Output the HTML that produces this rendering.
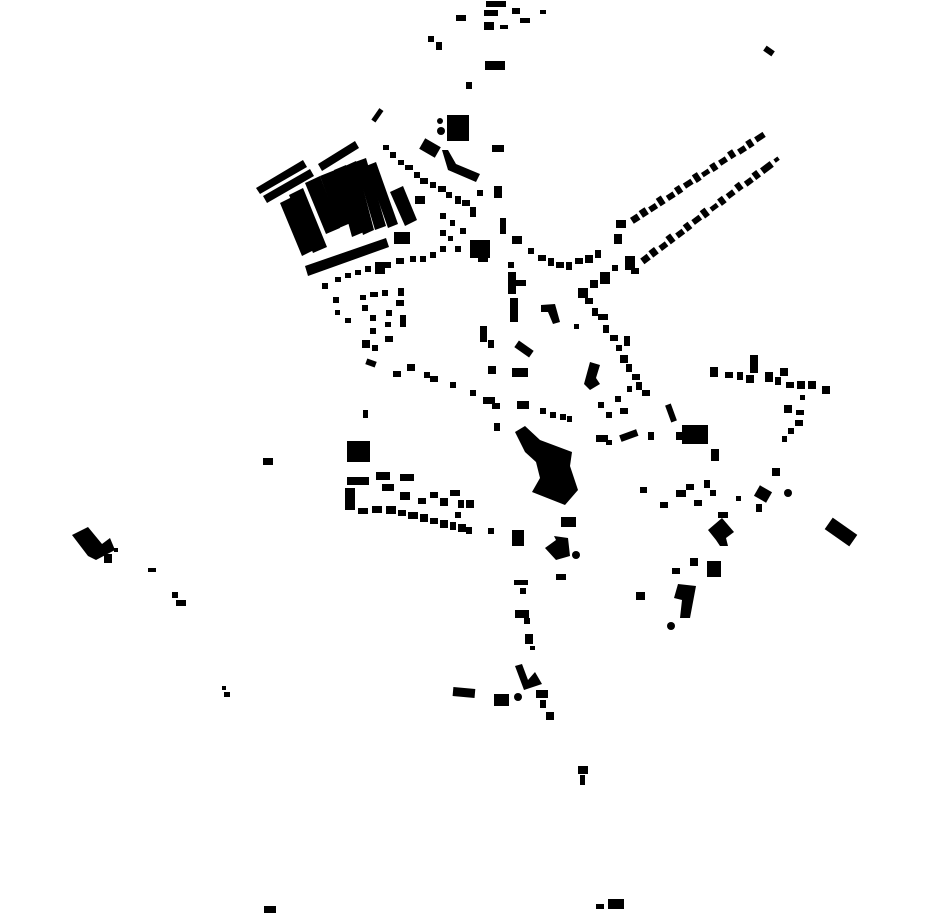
<!DOCTYPE html>
<html><head><meta charset="utf-8"><style>
html,body{margin:0;padding:0;background:#fff;}
svg{display:block;}
</style></head><body>
<svg width="930" height="924" viewBox="0 0 930 924" xmlns="http://www.w3.org/2000/svg" fill="#000">
<polygon points="256,188 303,160 307,167 260,194"/>
<polygon points="263,196 310,169 314,176 267,203"/>
<polygon points="318,164 355,141 359,148 322,171"/>
<polygon points="280,203 292,197 314,250 302,256"/>
<polygon points="289,195 303,188 327,247 313,253"/>
<polygon points="305,183 320,176 340,228 326,234"/>
<polygon points="320,176 335,170 353,222 339,228"/>
<polygon points="334,170 346,165 364,232 352,237"/>
<polygon points="345,166 356,161 374,230 363,235"/>
<polygon points="355,162 366,158 386,226 375,230"/>
<polygon points="366,166 376,162 398,224 388,228"/>
<polygon points="390,192 403,186 417,220 405,226"/>
<polygon points="305,266 386,238 389,247 308,276"/>
<rect x="394" y="232" width="16" height="12"/>
<rect x="375" y="262" width="10" height="12"/>
<rect x="486" y="1" width="20" height="6"/><rect x="484" y="10" width="14" height="6"/><rect x="484" y="22" width="10" height="8"/><rect x="512" y="8" width="8" height="6"/><rect x="520" y="18" width="10" height="5"/><rect x="540" y="10" width="6" height="4"/><rect x="456" y="15" width="10" height="6"/><rect x="500" y="25" width="8" height="4"/>
<rect x="428" y="36" width="6" height="6"/><rect x="436" y="42" width="6" height="8"/>
<rect x="485" y="61" width="20" height="9"/><rect x="466" y="82" width="6" height="7"/>
<rect x="764" y="48" width="10" height="6" transform="rotate(35 769 51)"/>
<rect x="447" y="115" width="22" height="26"/><circle cx="440" cy="121" r="3"/><circle cx="441" cy="131" r="4"/>
<rect x="421" y="142" width="18" height="12" transform="rotate(30 430 148)"/>
<polygon points="442,150 448,150 456,164 480,174 476,182 448,170"/>
<rect x="492" y="145" width="12" height="7"/><rect x="494" y="186" width="8" height="12"/>
<rect x="375" y="108" width="5" height="14" transform="rotate(35 377 115)"/>
<g>
<rect x="383" y="145" width="6" height="5"/><rect x="390" y="152" width="6" height="6"/><rect x="398" y="160" width="6" height="5"/><rect x="405" y="165" width="8" height="5"/><rect x="414" y="172" width="6" height="6"/><rect x="420" y="178" width="8" height="6"/><rect x="430" y="182" width="6" height="6"/><rect x="438" y="186" width="8" height="6"/><rect x="446" y="192" width="6" height="6"/><rect x="455" y="196" width="6" height="8"/><rect x="462" y="200" width="8" height="6"/><rect x="470" y="207" width="6" height="10"/><rect x="477" y="190" width="6" height="6"/>
<rect x="415" y="196" width="10" height="8"/><rect x="440" y="213" width="6" height="6"/><rect x="450" y="220" width="5" height="6"/><rect x="460" y="228" width="6" height="6"/><rect x="440" y="230" width="6" height="6"/><rect x="448" y="236" width="5" height="5"/><rect x="470" y="240" width="20" height="18"/><rect x="478" y="256" width="10" height="6"/><rect x="455" y="246" width="6" height="6"/><rect x="440" y="246" width="6" height="6"/><rect x="430" y="252" width="6" height="6"/><rect x="420" y="256" width="6" height="6"/><rect x="410" y="256" width="6" height="6"/><rect x="396" y="258" width="8" height="6"/><rect x="385" y="262" width="6" height="6"/>
<rect x="365" y="266" width="6" height="6"/><rect x="355" y="270" width="6" height="5"/><rect x="345" y="273" width="6" height="5"/><rect x="335" y="277" width="6" height="5"/><rect x="322" y="283" width="6" height="6"/><rect x="333" y="297" width="6" height="6"/><rect x="335" y="310" width="5" height="5"/><rect x="345" y="318" width="6" height="5"/>
<rect x="360" y="295" width="6" height="5"/><rect x="370" y="292" width="8" height="5"/><rect x="382" y="290" width="6" height="6"/><rect x="398" y="288" width="6" height="8"/><rect x="396" y="300" width="8" height="6"/><rect x="400" y="315" width="6" height="12"/><rect x="386" y="310" width="6" height="6"/><rect x="385" y="322" width="6" height="5"/><rect x="385" y="336" width="8" height="6"/><rect x="370" y="315" width="6" height="6"/><rect x="370" y="328" width="6" height="6"/><rect x="362" y="340" width="8" height="8"/><rect x="372" y="345" width="6" height="6"/><rect x="362" y="305" width="6" height="6"/>
<rect x="366" y="360" width="10" height="6" transform="rotate(20 371 363)"/><rect x="393" y="371" width="8" height="6"/><rect x="407" y="364" width="8" height="7"/><rect x="424" y="372" width="6" height="6"/><rect x="430" y="376" width="8" height="6"/><rect x="450" y="382" width="6" height="6"/><rect x="470" y="390" width="6" height="6"/><rect x="483" y="397" width="12" height="7"/><rect x="492" y="403" width="8" height="6"/><rect x="494" y="423" width="6" height="8"/><rect x="363" y="410" width="5" height="8"/>
</g>
<rect x="500" y="218" width="6" height="16"/><rect x="512" y="236" width="10" height="8"/><rect x="508" y="262" width="6" height="6"/><rect x="508" y="272" width="8" height="22"/><rect x="512" y="280" width="14" height="6"/><rect x="510" y="298" width="8" height="24"/><rect x="480" y="326" width="7" height="16"/><rect x="488" y="340" width="6" height="8"/><rect x="515" y="345" width="18" height="8" transform="rotate(35 524 349)"/><rect x="488" y="366" width="8" height="8"/><rect x="512" y="368" width="16" height="9"/><rect x="517" y="401" width="12" height="8"/>
<polygon points="541,305 555,304 560,322 553,324 548,312 541,312"/><rect x="574" y="324" width="5" height="5"/>
<rect x="540" y="408" width="6" height="6"/><rect x="550" y="412" width="6" height="6"/><rect x="560" y="414" width="6" height="6"/><rect x="567" y="416" width="5" height="6"/>
<rect x="528" y="248" width="6" height="6"/><rect x="538" y="255" width="8" height="6"/><rect x="548" y="258" width="6" height="8"/><rect x="556" y="262" width="8" height="6"/><rect x="566" y="262" width="6" height="8"/><rect x="575" y="258" width="8" height="6"/><rect x="585" y="255" width="8" height="8"/><rect x="595" y="250" width="6" height="8"/><rect x="578" y="288" width="10" height="10"/><rect x="590" y="280" width="8" height="8"/><rect x="600" y="272" width="10" height="12"/><rect x="612" y="265" width="6" height="6"/><rect x="625" y="256" width="10" height="14"/><rect x="631" y="268" width="8" height="6"/>
<!-- NE upper row -->
<g transform="rotate(-33 640 215)">
<rect x="630" y="212" width="8" height="7"/><rect x="641" y="211" width="7" height="8"/><rect x="651" y="213" width="8" height="6"/><rect x="662" y="210" width="6" height="9"/><rect x="672" y="213" width="8" height="6"/><rect x="683" y="211" width="6" height="8"/><rect x="693" y="212" width="9" height="6"/><rect x="705" y="210" width="6" height="9"/><rect x="714" y="213" width="8" height="5"/><rect x="725" y="211" width="6" height="8"/><rect x="735" y="212" width="8" height="6"/><rect x="747" y="210" width="6" height="8"/><rect x="757" y="213" width="8" height="6"/><rect x="768" y="211" width="6" height="8"/><rect x="778" y="212" width="10" height="6"/>
</g>
<!-- NE lower row -->
<g transform="rotate(-37 650 255)">
<rect x="640" y="252" width="8" height="7"/><rect x="651" y="251" width="7" height="8"/><rect x="662" y="253" width="8" height="6"/><rect x="673" y="250" width="6" height="9"/><rect x="683" y="253" width="8" height="6"/><rect x="694" y="251" width="6" height="8"/><rect x="704" y="252" width="9" height="6"/><rect x="716" y="250" width="6" height="9"/><rect x="726" y="253" width="8" height="5"/><rect x="737" y="251" width="6" height="8"/><rect x="747" y="252" width="8" height="6"/><rect x="759" y="250" width="6" height="8"/><rect x="769" y="253" width="8" height="6"/><rect x="780" y="251" width="6" height="8"/><rect x="790" y="252" width="12" height="7"/><rect x="806" y="253" width="5" height="4"/>
</g>
<rect x="616" y="220" width="10" height="8"/><rect x="614" y="234" width="8" height="10"/>
<rect x="585" y="298" width="8" height="6"/><rect x="592" y="308" width="6" height="8"/><rect x="598" y="314" width="10" height="6"/><rect x="603" y="325" width="6" height="8"/><rect x="610" y="335" width="8" height="6"/><rect x="616" y="345" width="6" height="6"/><rect x="624" y="336" width="6" height="10"/><rect x="620" y="355" width="8" height="8"/><rect x="626" y="364" width="6" height="8"/><rect x="632" y="374" width="8" height="6"/><rect x="636" y="382" width="6" height="8"/><rect x="642" y="390" width="8" height="6"/>
<polygon points="590,362 600,365 596,378 600,384 590,390 584,384"/>
<rect x="598" y="402" width="6" height="6"/><rect x="606" y="412" width="6" height="6"/><rect x="615" y="396" width="6" height="6"/><rect x="620" y="408" width="8" height="6"/><rect x="627" y="386" width="5" height="6"/><rect x="596" y="435" width="12" height="7"/><rect x="620" y="432" width="18" height="7" transform="rotate(-20 629 436)"/><rect x="606" y="440" width="6" height="5"/><rect x="648" y="432" width="6" height="8"/>
<rect x="668" y="404" width="6" height="18" transform="rotate(-20 671 413)"/><rect x="682" y="425" width="26" height="19"/><rect x="676" y="432" width="8" height="8"/><rect x="711" y="449" width="8" height="12"/>
<rect x="710" y="367" width="8" height="10"/><rect x="725" y="372" width="8" height="6"/><rect x="737" y="372" width="6" height="8"/><rect x="746" y="375" width="8" height="8"/><rect x="750" y="355" width="8" height="18"/><rect x="765" y="372" width="8" height="10"/><rect x="775" y="377" width="6" height="8"/><rect x="780" y="368" width="8" height="8"/><rect x="786" y="382" width="8" height="6"/><rect x="797" y="381" width="8" height="8"/><rect x="808" y="381" width="8" height="8"/><rect x="822" y="386" width="8" height="8"/><rect x="800" y="395" width="5" height="5"/><rect x="784" y="405" width="8" height="8"/><rect x="796" y="410" width="8" height="5"/><rect x="795" y="420" width="8" height="6"/><rect x="788" y="428" width="6" height="6"/><rect x="782" y="436" width="5" height="6"/>
<rect x="640" y="487" width="7" height="6"/><rect x="660" y="502" width="8" height="6"/><rect x="676" y="490" width="10" height="7"/><rect x="686" y="484" width="8" height="6"/><rect x="694" y="500" width="8" height="6"/><rect x="704" y="480" width="6" height="8"/><rect x="710" y="490" width="6" height="6"/><rect x="736" y="496" width="5" height="5"/><rect x="756" y="488" width="14" height="12" transform="rotate(30 763 494)"/><circle cx="788" cy="493" r="4"/><rect x="772" y="468" width="8" height="8"/><rect x="756" y="504" width="6" height="8"/>
<polygon points="708,530 722,518 734,532 726,538 728,546 720,546 716,540"/><rect x="718" y="512" width="10" height="6"/>
<rect x="826" y="525" width="30" height="14" transform="rotate(35 841 532)"/>
<rect x="672" y="568" width="8" height="6"/><rect x="690" y="558" width="8" height="8"/><rect x="707" y="561" width="14" height="16"/>
<polygon points="678,584 696,586 690,618 680,618 682,600 674,598"/><circle cx="671" cy="626" r="4"/><rect x="636" y="592" width="9" height="8"/>
<polygon points="515,432 525,426 540,440 572,452 570,466 578,490 565,505 532,492 540,478 536,462 525,452"/>
<rect x="561" y="517" width="15" height="10"/>
<polygon points="545,548 556,540 554,536 568,538 570,556 556,560"/><circle cx="576" cy="555" r="4"/><rect x="556" y="574" width="10" height="6"/>
<rect x="512" y="530" width="12" height="16"/><rect x="488" y="528" width="6" height="6"/>
<rect x="347" y="441" width="23" height="21"/><rect x="347" y="477" width="22" height="8"/><rect x="345" y="488" width="10" height="22"/>
<rect x="376" y="472" width="14" height="8"/><rect x="400" y="474" width="14" height="7"/><rect x="382" y="484" width="12" height="7"/><rect x="400" y="492" width="10" height="8"/><rect x="418" y="498" width="8" height="6"/><rect x="430" y="492" width="8" height="6"/><rect x="440" y="498" width="8" height="8"/><rect x="450" y="490" width="10" height="6"/><rect x="458" y="500" width="6" height="8"/><rect x="466" y="500" width="8" height="8"/><rect x="455" y="512" width="6" height="6"/>
<rect x="358" y="508" width="10" height="6"/><rect x="372" y="506" width="10" height="7"/><rect x="386" y="506" width="10" height="8"/><rect x="398" y="510" width="8" height="6"/><rect x="408" y="512" width="10" height="7"/><rect x="420" y="514" width="8" height="8"/><rect x="430" y="518" width="8" height="6"/><rect x="440" y="520" width="8" height="8"/><rect x="450" y="522" width="6" height="8"/><rect x="458" y="524" width="8" height="8"/><rect x="466" y="527" width="6" height="7"/>
<rect x="263" y="458" width="10" height="7"/>
<polygon points="72,535 88,527 102,544 110,538 115,550 96,560 88,556"/><rect x="104" y="554" width="8" height="9"/><rect x="114" y="548" width="4" height="4"/>
<rect x="148" y="568" width="8" height="4"/><rect x="172" y="592" width="6" height="6"/><rect x="176" y="600" width="10" height="6"/><rect x="222" y="686" width="4" height="4"/><rect x="224" y="692" width="6" height="5"/>
<rect x="514" y="580" width="14" height="5"/><rect x="520" y="588" width="6" height="6"/><rect x="515" y="610" width="14" height="8"/><rect x="524" y="618" width="6" height="6"/><rect x="525" y="634" width="8" height="10"/><rect x="530" y="646" width="5" height="4"/>
<polygon points="515,666 522,664 528,680 535,672 542,684 524,690"/><circle cx="518" cy="697" r="4"/><rect x="494" y="694" width="15" height="12"/><rect x="453" y="688" width="22" height="9" transform="rotate(5 464 692)"/>
<rect x="536" y="690" width="12" height="8"/><rect x="540" y="700" width="6" height="8"/><rect x="546" y="712" width="8" height="8"/>
<rect x="578" y="766" width="10" height="8"/><rect x="580" y="775" width="5" height="10"/>
<rect x="264" y="906" width="12" height="7"/><rect x="608" y="899" width="16" height="10"/><rect x="596" y="904" width="8" height="5"/>
</svg>
</body></html>
